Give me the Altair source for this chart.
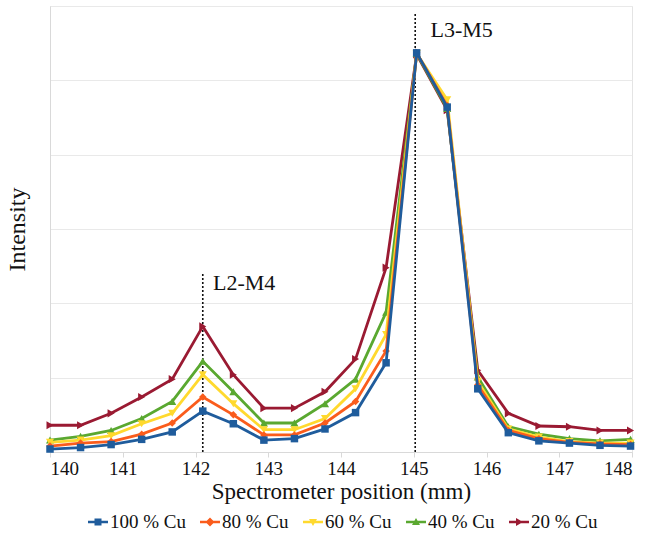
import altair as alt
import pandas as pd

# ---- data ----
positions = [140.0, 140.42, 140.84, 141.26, 141.68, 142.1, 142.52, 142.94, 143.36, 143.78,
             144.2, 144.62, 145.04, 145.46, 145.88, 146.3, 146.72, 147.14, 147.56, 147.98]

series_names = ["100 % Cu", "80 % Cu", "60 % Cu", "40 % Cu", "20 % Cu"]

cu100 = [0.04, 0.06, 0.10, 0.17, 0.27, 0.55, 0.38, 0.16, 0.18, 0.31,
         0.53, 1.20, 5.37, 4.64, 0.85, 0.26, 0.15, 0.12, 0.09, 0.08]
cu80 = [0.08, 0.12, 0.14, 0.24, 0.39, 0.74, 0.50, 0.23, 0.23, 0.39,
        0.68, 1.36, 5.37, 4.66, 0.90, 0.29, 0.18, 0.13, 0.11, 0.10]
cu60 = [0.13, 0.16, 0.22, 0.38, 0.52, 1.04, 0.65, 0.30, 0.30, 0.45,
        0.85, 1.58, 5.36, 4.74, 0.95, 0.31, 0.20, 0.14, 0.12, 0.12]
cu40 = [0.16, 0.21, 0.29, 0.45, 0.68, 1.22, 0.81, 0.39, 0.39, 0.65,
        0.98, 1.88, 5.36, 4.62, 1.01, 0.34, 0.24, 0.18, 0.15, 0.17]
cu20 = [0.36, 0.36, 0.52, 0.74, 0.98, 1.69, 1.04, 0.59, 0.59, 0.81,
        1.25, 2.48, 5.35, 4.60, 1.10, 0.52, 0.35, 0.34, 0.29, 0.29]
series_values = [cu100, cu80, cu60, cu40, cu20]

x_ticks = [140, 141, 142, 143, 144, 145, 146, 147, 148]
y_grid = [0, 1, 2, 3, 4, 5, 6]

line_labels = ["L2-M4", "L3-M5"]
line_x = [142.1, 145.02]
line_top = [2.42, 5.92]
label_x = [142.24, 145.23]
label_y = [2.27, 5.68]

# ---- styles ----
series_colors = ["#1f5c9c", "#fa5c1c", "#ffd92e", "#5aa830", "#9a1a32"]
series_shapes = ["square", "diamond", "triangle-down", "triangle-up", "triangle-right"]
bar = "M-1,-0.13H1V0.13H-1Z "
legend_paths = [
    bar + "M-0.35,-0.35H0.35V0.35H-0.35Z",
    bar + "M0,-0.45L0.45,0L0,0.45L-0.45,0Z",
    bar + "M-0.4,-0.3L0.4,-0.3L0,0.4Z",
    bar + "M0.4,0.3L-0.4,0.3L0,-0.4Z",
    bar + "M-0.3,-0.4L0.4,0L-0.3,0.4Z",
]
FONT = "Liberation Serif"

xscale = alt.Scale(domain=[140, 148], nice=False, zero=False)
yscale = alt.Scale(domain=[0, 6], nice=False, zero=True)
xenc = alt.X("x:Q", scale=xscale,
             axis=alt.Axis(values=x_ticks, format="d", title="Spectrometer position (mm)"))
yenc = alt.Y("y:Q", scale=yscale,
             axis=alt.Axis(values=y_grid, labels=False, ticks=False, title="Intensity"))

layers = []

# annotation lines
ann_df = pd.DataFrame({"x": line_x, "y": [0, 0], "y2": line_top,
                       "lx": label_x, "ly": label_y, "label": line_labels})
layers.append(
    alt.Chart(ann_df).mark_rule(color="#111111", strokeWidth=1.6, strokeDash=[2, 2]).encode(
        x=xenc, y=yenc, y2="y2:Q")
)
layers.append(
    alt.Chart(ann_df).mark_text(align="left", baseline="middle", font=FONT, fontSize=22,
                                color="#111111").encode(
        x=alt.X("lx:Q", scale=xscale), y=alt.Y("ly:Q", scale=yscale), text="label:N")
)

# series, drawn from 20 % (bottom) to 100 % (top)
for i in reversed(range(len(series_names))):
    df = pd.DataFrame({"x": positions, "y": series_values[i], "series": series_names[i]})
    layers.append(alt.Chart(df).mark_line(color=series_colors[i], strokeWidth=2.8).encode(
        x=xenc, y=yenc))
    size = 56 if series_shapes[i] == "square" else (56 if series_shapes[i] == "diamond" else 66)
    layers.append(alt.Chart(df).mark_point(shape=series_shapes[i], filled=True, opacity=1,
                                           color=series_colors[i], size=size).encode(
        x=xenc, y=yenc))

# legend layer (points outside the domain, clipped; only the legend is visible)
leg_df = pd.DataFrame({"series": series_names, "x": [139.0] * 5, "y": [1.0] * 5})
legend = alt.Legend(title=None, orient="none", direction="horizontal", legendX=38, legendY=506,
                    labelFont=FONT, labelFontSize=19, labelColor="#111111", symbolSize=400,
                    symbolStrokeWidth=0, labelOffset=2, columnPadding=14)
layers.append(
    alt.Chart(leg_df).mark_point(filled=True, clip=True, opacity=1).encode(
        x=xenc, y=yenc,
        color=alt.Color("series:N", scale=alt.Scale(domain=series_names, range=series_colors),
                        legend=legend),
        shape=alt.Shape("series:N", scale=alt.Scale(domain=series_names, range=legend_paths),
                        legend=legend),
    )
)

chart = alt.layer(*layers).properties(
    width=582, height=446,
    autosize=alt.AutoSizeParams(type="none"),
    padding={"left": 50, "top": 6, "right": 17, "bottom": 87},
    background="white",
).configure_view(
    stroke="#e4e4e4", strokeWidth=1
).configure_axis(
    labelFont=FONT, titleFont=FONT, labelColor="#111111", titleColor="#111111",
    domainColor="#d9d9d9", tickColor="#d9d9d9", gridColor="#e9e9e9",
    titleFontWeight="normal",
).configure_axisX(
    grid=False, labelFontSize=19, titleFontSize=23, tickSize=5, labelPadding=2, titlePadding=2,
).configure_axisY(
    grid=True, titleFontSize=24, titlePadding=21,
)

chart.save("out.html", embed_options={"renderer": "svg", "actions": False})
